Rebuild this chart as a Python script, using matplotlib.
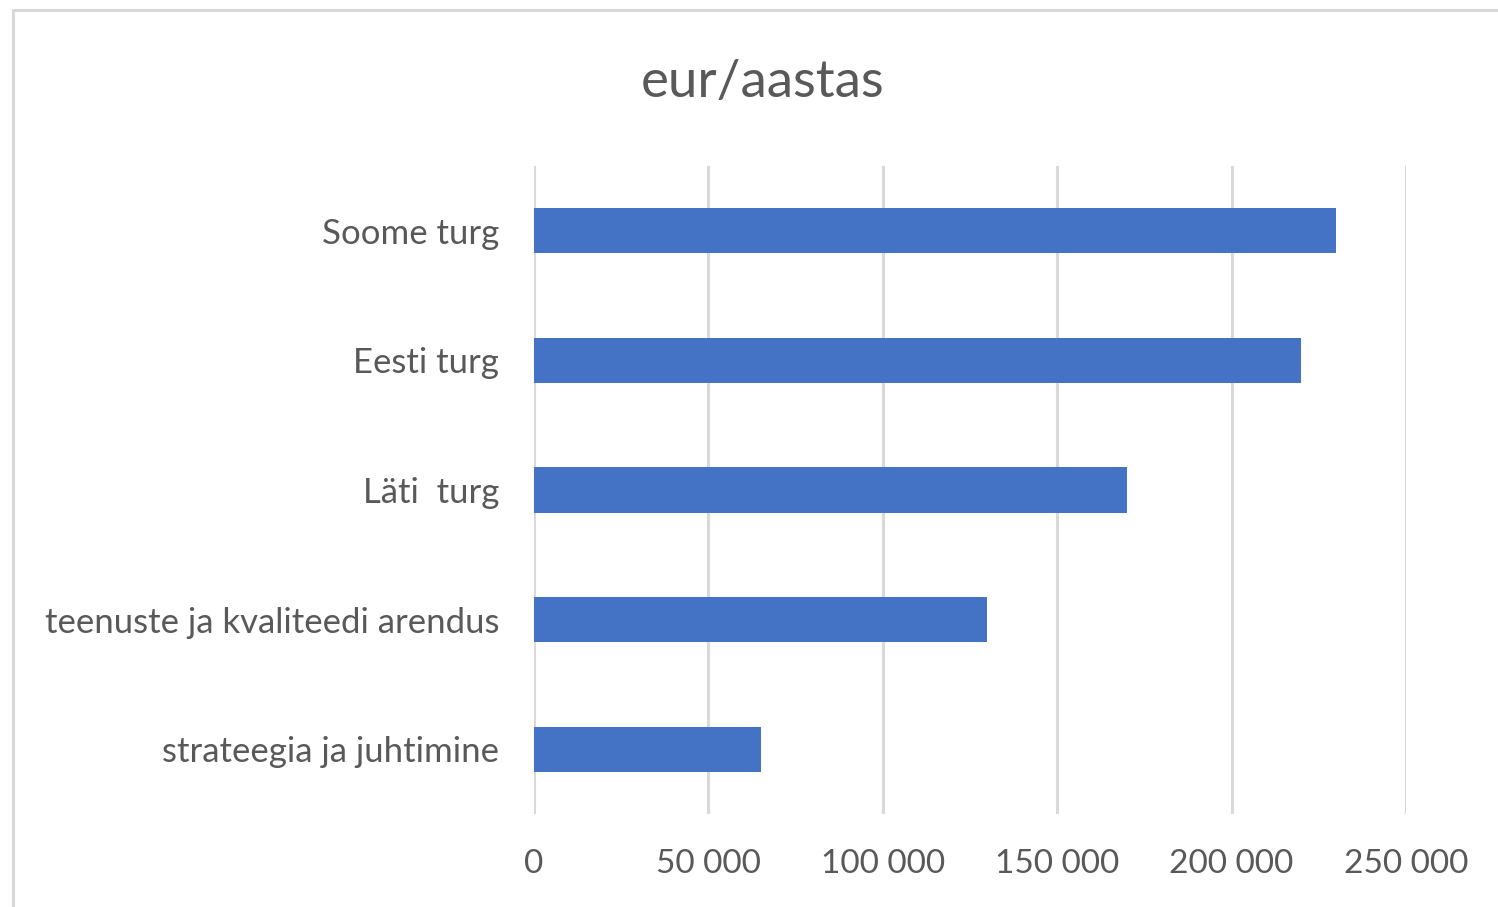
import matplotlib
matplotlib.use('Agg')
import matplotlib.pyplot as plt
from matplotlib.patches import Rectangle
from matplotlib.ticker import FuncFormatter

categories = ['strateegia ja juhtimine', 'teenuste ja kvaliteedi arendus',
              'Läti  turg', 'Eesti turg', 'Soome turg']
values = [65000, 130000, 170000, 220000, 230000]
xticks = [0, 50000, 100000, 150000, 200000, 250000]

plt.rcParams['font.family'] = ['Lato', 'DejaVu Sans']

fig = plt.figure(figsize=(14.98, 9.07), dpi=100)
ax = fig.add_axes([534 / 1498, 1 - 814 / 907, 872 / 1498, 648 / 907])

# outer chart frame (right/bottom edges fall outside the image)
fig.patches.append(Rectangle((13 / 1498, -0.1), 1.2, 1 - 10 / 907 + 0.1,
                             transform=fig.transFigure, fill=False,
                             edgecolor='#d9d9d9', lw=2.2, zorder=0))

ax.barh(range(len(categories)), values, height=0.35, color='#4472C4', zorder=3)

ax.set_xlim(0, 250000)
ax.set_ylim(-0.5, len(categories) - 0.5)
ax.set_xticks(xticks)
ax.xaxis.set_major_formatter(FuncFormatter(lambda v, p: f'{int(v):,}'.replace(',', ' ')))
ax.set_yticks(range(len(categories)))
ax.set_yticklabels(categories)
ax.grid(axis='x', color='#d9d9d9', lw=2.2, zorder=0)
for s in ax.spines.values():
    s.set_visible(False)
ax.tick_params(axis='y', length=0, labelsize=25, labelcolor='#595959', pad=25)
ax.tick_params(axis='x', length=0, labelsize=24, labelcolor='#595959', pad=25)

fig.text(763 / 1498, 1 - 82 / 907, 'eur/aastas', ha='center', va='center',
         fontsize=38, color='#595959')

fig.savefig('out.png', dpi=100)
